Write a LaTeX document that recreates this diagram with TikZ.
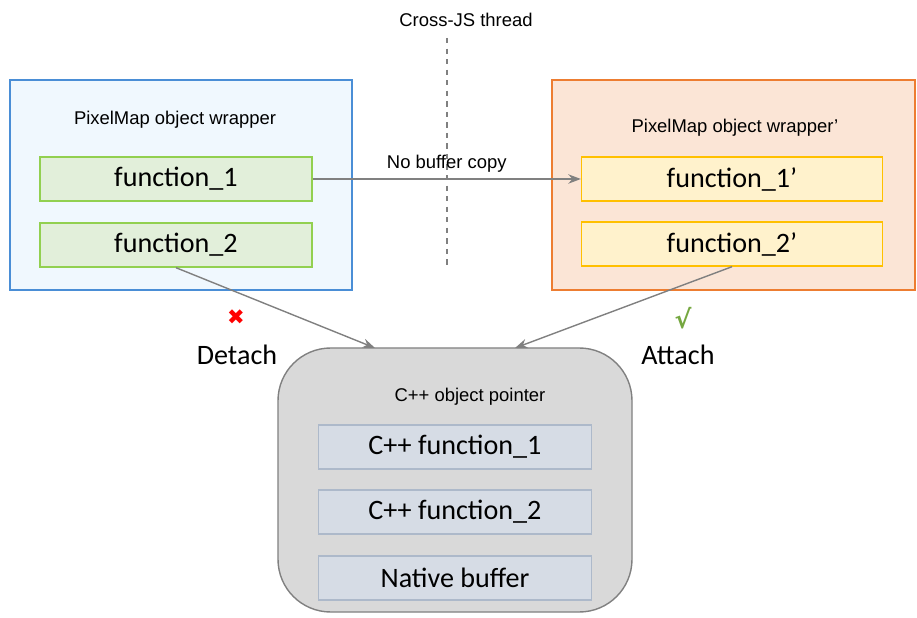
\documentclass[tikz,border=0pt]{standalone}
\usepackage{fontspec}
\setmainfont{Liberation Sans}
\newfontfamily\bigfont{Carlito}
\newfontfamily\symfont{DejaVu Sans}
\usetikzlibrary{arrows.meta}
\definecolor{lblue}{HTML}{F0F8FE}
\definecolor{dblue}{HTML}{4A8ED6}
\definecolor{lorange}{HTML}{FBE5D6}
\definecolor{dorange}{HTML}{ED7D31}
\definecolor{lgreen}{HTML}{E2EFDA}
\definecolor{dgreen}{HTML}{92D050}
\definecolor{lyellow}{HTML}{FFF2CC}
\definecolor{dyellow}{HTML}{FFC000}
\definecolor{lslate}{HTML}{D6DCE5}
\definecolor{dslate}{HTML}{ADB9CA}
\tikzset{
  small/.style={font=\fontsize{10.5}{12}\selectfont},
  big/.style={font=\bigfont\fontsize{16}{18}\selectfont},
  func/.style={draw=#1, thick, minimum width=5.44cm, minimum height=0.88cm, big},
  link/.style={draw=gray, thick, -{Stealth[length=2.5mm]}}
}
\begin{document}
\begin{tikzpicture}[x=0.02cm,y=-0.02cm]
    \useasboundingbox (0,0) rectangle (917,618);
    % wrappers
    \filldraw[fill=lblue, draw=dblue, thick] (10,80) rectangle (352,290);
    \filldraw[fill=lorange, draw=dorange, thick] (552,80) rectangle (915,290);
    \node[small] (lefttitle) at (175,120) {PixelMap object wrapper};
    \node[small] (righttitle) at (735,128) {PixelMap object wrapper’};
    \node[func=dgreen, fill=lgreen] (f1) at (176,179) {function\_1};
    \node[func=dgreen, fill=lgreen] (f2) at (176,245) {function\_2};
    \node[func=dyellow, fill=lyellow, minimum width=6.02cm] (g1) at (732,179) {function\_1’};
    \node[func=dyellow, fill=lyellow, minimum width=6.02cm] (g2) at (732,244) {function\_2’};

    % thread border
    \node[small] (thread) at (466,20) {Cross-JS thread};
    \draw[gray, thick, dashed] (447,38) -- (447,268);

    % native object
    \filldraw[fill=black!15, draw=black!50, thick, rounded corners=30] (278,348) rectangle (632,612);
    \node[small] (ptr) at (470,397) {C++ object pointer};
    \node[func=dslate, fill=lslate, minimum width=5.46cm] (c1) at (455,447) {C++ function\_1};
    \node[func=dslate, fill=lslate, minimum width=5.46cm] (c2) at (455,512) {C++ function\_2};
    \node[func=dslate, fill=lslate, minimum width=5.46cm] (buf) at (455,578) {Native buffer};
    \coordinate (inl) at (375,348);
    \coordinate (inr) at (515,348);

    \draw[link] (f1.east) -- node[above, small] {No buffer copy} (g1.west);
    \draw[link] (f2.south) -- (inl);
    \draw[link] (g2.south) -- (inr);

    \node[text=red, font=\symfont\bfseries\large] (cross) at (236,317) {✖};
    \node[big] (detach) at (237,355) {Detach};
    \node[text=dgreen!80!black, font=\symfont\bfseries\Large] (tick) at (683,318) {√};
    \node[big] (attach) at (678,355) {Attach};
\end{tikzpicture}
\end{document}
